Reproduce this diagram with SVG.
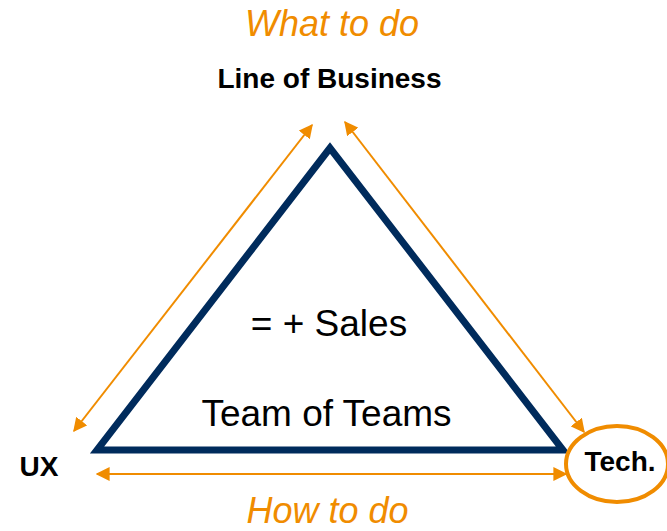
<svg xmlns="http://www.w3.org/2000/svg" width="667" height="531" viewBox="0 0 667 531">
<style>
.or{fill:#F08C00;font-family:"Liberation Sans",Arial,sans-serif;font-style:italic;font-size:36px;text-anchor:middle}
.lb{fill:#000;font-family:"Liberation Sans",Arial,sans-serif;font-weight:bold;font-size:28px;text-anchor:middle}
.in{fill:#000;font-family:"Liberation Sans",Arial,sans-serif;font-size:37px;text-anchor:middle}
.ar{stroke:#F08C00;stroke-width:2;fill:none}
</style>
<defs>
<marker id="ah" viewBox="0 0 10 10" refX="9" refY="5" markerWidth="7" markerHeight="7" orient="auto-start-reverse" markerUnits="strokeWidth">
<path d="M0,0 L10,5 L0,10 z" fill="#F08C00"/>
</marker>
</defs>
<rect width="667" height="531" fill="#fff"/>
<g id="triangle">
<polygon points="330,148 97,450 563,450" fill="none" stroke="#002B5C" stroke-width="7" stroke-linejoin="miter"/>
<text class="in" x="329" y="336">= + Sales</text>
<text class="in" x="326.5" y="426">Team of Teams</text>
</g>
<g id="connectors">
<line class="ar" x1="74" y1="431" x2="312" y2="125" marker-start="url(#ah)" marker-end="url(#ah)"/>
<line class="ar" x1="345" y1="122" x2="584" y2="432" marker-start="url(#ah)" marker-end="url(#ah)"/>
<line class="ar" x1="97" y1="474" x2="566" y2="474" marker-start="url(#ah)" marker-end="url(#ah)"/>
</g>
<g id="lob">
<text class="lb" x="329.5" y="88">Line of Business</text>
</g>
<g id="ux">
<text class="lb" x="39" y="476">UX</text>
</g>
<g id="tech">
<ellipse cx="617" cy="464" rx="51" ry="38" fill="none" stroke="#F08C00" stroke-width="4"/>
<text class="lb" x="620" y="471">Tech.</text>
</g>
<g id="labels">
<text class="or" x="332" y="36">What to do</text>
<text class="or" x="327.5" y="523">How to do</text>
</g>
</svg>
